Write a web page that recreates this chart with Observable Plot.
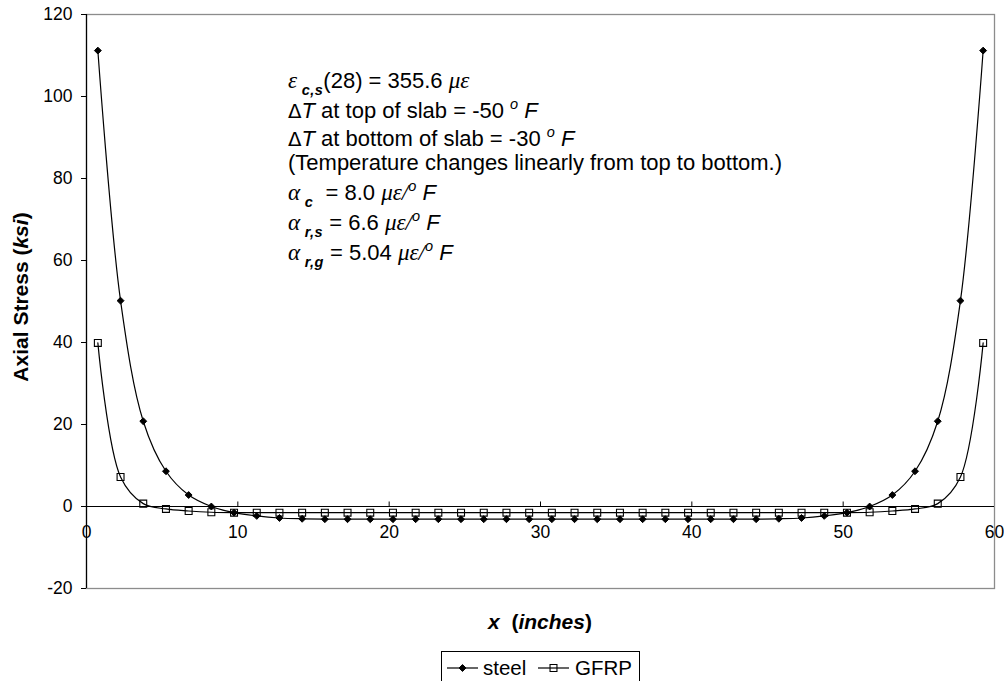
<!DOCTYPE html>
<html>
<head>
<meta charset="utf-8">
<script src="https://cdn.jsdelivr.net/npm/d3@7"></script>
<script src="https://cdn.jsdelivr.net/npm/@observablehq/plot@0.6"></script>
<style>
  body { margin: 0; background: #fff; font-family: "Liberation Sans", Arial, sans-serif; }
  #wrap { position: relative; width: 1004px; height: 681px; overflow: hidden; background: #fff; }
  #chart svg { display: block; }
  #legend { position: absolute; left: 0; top: 651px; display: block; }
  text { white-space: pre; }
</style>
</head>
<body>
<div id="wrap">
  <div id="chart"></div>
  <svg id="legend" width="1004" height="30"></svg>
</div>
<script>
// ---- data ----
const xs = [0.75, 2.25, 3.75, 5.25, 6.75, 8.25, 9.75, 11.25, 12.75, 14.25,
            15.75, 17.25, 18.75, 20.25, 21.75, 23.25, 24.75, 26.25, 27.75, 29.25,
            30.75, 32.25, 33.75, 35.25, 36.75, 38.25, 39.75, 41.25, 42.75, 44.25,
            45.75, 47.25, 48.75, 50.25, 51.75, 53.25, 54.75, 56.25, 57.75, 59.25];
const steel = [111.2, 50.2, 20.8, 8.6, 2.8, 0.0, -1.5, -2.3, -2.8, -3.0,
               -3.1, -3.1, -3.1, -3.1, -3.1, -3.1, -3.1, -3.1, -3.1, -3.1,
               -3.1, -3.1, -3.1, -3.1, -3.1, -3.1, -3.1, -3.1, -3.1, -3.1,
               -3.0, -2.8, -2.3, -1.5, 0.0, 2.8, 8.6, 20.8, 50.2, 111.2];
const gfrp = [39.9, 7.2, 0.7, -0.6, -1.1, -1.4, -1.5, -1.5, -1.5, -1.5,
              -1.5, -1.5, -1.5, -1.5, -1.5, -1.5, -1.5, -1.5, -1.5, -1.5,
              -1.5, -1.5, -1.5, -1.5, -1.5, -1.5, -1.5, -1.5, -1.5, -1.5,
              -1.5, -1.5, -1.5, -1.5, -1.4, -1.1, -0.6, 0.7, 7.2, 39.9];
const seriesNames = ["steel", "GFRP"];
const xTicks = [0, 10, 20, 30, 40, 50, 60];
const yTicks = [-20, 0, 20, 40, 60, 80, 100, 120];
const yLabel = [["Axial Stress (", "b"], ["ksi", "bi"], [")", "b"]];
const xLabel = [["x", "bi"], ["  (", "b"], ["inches", "bi"], [")", "b"]];
// annotation lines: [text, style]; styles: n normal, i italic, g greek italic, G greek upright, sub, sup
const note1 = [["ε", "g"], [" c,s", "sub"], ["(28) = 355.6 ", "n"], ["με", "g"]];
const note2 = [["Δ", "G"], ["T", "i"], [" at top of slab = -50 ", "n"], ["o", "sup"], [" F", "i"]];
const note3 = [["Δ", "G"], ["T", "i"], [" at bottom of slab = -30 ", "n"], ["o", "sup"], [" F", "i"]];
const note4 = [["(Temperature changes linearly from top to bottom.)", "n"]];
const note5 = [["α", "g"], [" c", "sub"], ["  = 8.0 ", "n"], ["με/", "g"], ["o", "sup"], [" F", "i"]];
const note6 = [["α", "g"], [" r,s", "sub"], [" = 6.6 ", "n"], ["με/", "g"], ["o", "sup"], [" F", "i"]];
const note7 = [["α", "g"], [" r,g", "sub"], [" = 5.04 ", "n"], ["με/", "g"], ["o", "sup"], [" F", "i"]];
const notes = [note1, note2, note3, note4, note5, note6, note7];

// ---- build ----
const steelRows = xs.map((x, i) => ({x, y: steel[i], s: seriesNames[0]}));
const gfrpRows = xs.map((x, i) => ({x, y: gfrp[i], s: seriesNames[1]}));
const FONT = '"Liberation Sans", Arial, sans-serif';

const plot = Plot.plot({
  width: 1004, height: 651,
  marginLeft: 86, marginRight: 10, marginTop: 14, marginBottom: 63,
  style: {fontFamily: FONT, fontSize: "17.5px", color: "#000", background: "#fff", overflow: "visible"},
  x: {domain: [0, 60]},
  y: {domain: [-20, 120]},
  marks: [
    Plot.frame({stroke: "#8c8c8c", strokeWidth: 1.3}),
    Plot.axisY({ticks: yTicks, tickSize: 5, tickPadding: 9, label: null, fontSize: 17.5, tickFormat: d => String(d)}),
    Plot.axisX({ticks: [], label: null, tickSize: 0}),
    Plot.ruleX([0], {stroke: "#000", strokeWidth: 1.2}),
    Plot.ruleY([0], {stroke: "#000", strokeWidth: 1.1}),
    Plot.ruleX(xTicks.slice(1, -1), {x: d => d, y1: 0, y2: 1.1, stroke: "#000"}),
    Plot.text(xTicks, {x: d => d, y: 0, dy: 26, text: d => String(d), fontSize: 17.5, fill: "#000"}),
    Plot.line(steelRows, {x: "x", y: "y", curve: "catmull-rom", stroke: "#000", strokeWidth: 1.2}),
    Plot.line(gfrpRows, {x: "x", y: "y", curve: "catmull-rom", stroke: "#000", strokeWidth: 1.2}),
    Plot.dot(gfrpRows, {x: "x", y: "y", symbol: "square2", r: 4.4, stroke: "#000", fill: "none", strokeWidth: 1.1}),
    Plot.dot(steelRows, {x: "x", y: "y", symbol: "diamond2", r: 3.1, fill: "#000", stroke: "#000", strokeWidth: 1})
  ]
});
document.getElementById("chart").appendChild(plot);

const svg = d3.select(plot);

function addRuns(textSel, runs, size) {
  let shift = 0;
  runs.forEach(([t, st]) => {
    const ts = textSel.append("tspan").text(t);
    let target = 0;
    ts.attr("font-weight", st.includes("b") ? 700 : 400);
    ts.attr("font-style", "normal").attr("font-family", FONT);
    if (st === "i" || st === "bi") ts.attr("font-style", "italic");
    if (st === "g") ts.attr("font-style", "italic").attr("font-family", '"Liberation Serif", "Times New Roman", serif').attr("font-size", size * 1.05);
    if (st === "G") ts.attr("font-family", '"DejaVu Sans", sans-serif').attr("font-size", size * 0.9);
    if (st === "sub") { ts.attr("font-style", "italic").attr("font-size", size * 0.66).attr("letter-spacing", 0.5); target = size * 0.3; }
    if (st === "sup") { ts.attr("font-style", "italic").attr("font-size", size * 0.66); target = -size * 0.42; }
    ts.attr("dy", target - shift);
    shift = target;
  });
}

// y axis label
const yl = svg.append("text")
  .attr("transform", "translate(28,297) rotate(-90)")
  .attr("text-anchor", "middle").attr("font-size", 21).attr("fill", "#000");
addRuns(yl, yLabel, 21);

// x axis label
const xl = svg.append("text")
  .attr("x", 540).attr("y", 629)
  .attr("text-anchor", "middle").attr("font-size", 21).attr("fill", "#000");
addRuns(xl, xLabel, 21);

// annotation
const baselines = [88, 118, 146, 170, 200, 230, 260];
notes.forEach((runs, i) => {
  const t = svg.append("text").attr("x", 288).attr("y", baselines[i])
    .attr("text-anchor", "start").attr("font-size", 22).attr("fill", "#000");
  addRuns(t, runs, 22);
});

// legend
const lg = d3.select("#legend");
lg.append("rect").attr("x", 441.5).attr("y", 0.5).attr("width", 198).attr("height", 40).attr("fill", "#fff").attr("stroke", "#000");
lg.append("line").attr("x1", 447).attr("x2", 478).attr("y1", 17).attr("y2", 17).attr("stroke", "#000").attr("stroke-width", 1.2);
lg.append("path").attr("d", d3.symbol(d3.symbolDiamond2, Math.PI * 3.1 * 3.1)()).attr("transform", "translate(462.5,17)").attr("fill", "#000").attr("stroke", "#000");
lg.append("text").attr("x", 483).attr("y", 24).attr("font-size", 20.5).attr("font-family", FONT).text(seriesNames[0]);
lg.append("line").attr("x1", 538).attr("x2", 569).attr("y1", 17).attr("y2", 17).attr("stroke", "#000").attr("stroke-width", 1.2);
lg.append("path").attr("d", d3.symbol(d3.symbolSquare2, Math.PI * 4.4 * 4.4)()).attr("transform", "translate(553.5,17)").attr("fill", "none").attr("stroke", "#000").attr("stroke-width", 1.1);
lg.append("text").attr("x", 575).attr("y", 24).attr("font-size", 20.5).attr("font-family", FONT).text(seriesNames[1]);
</script>
</body>
</html>
